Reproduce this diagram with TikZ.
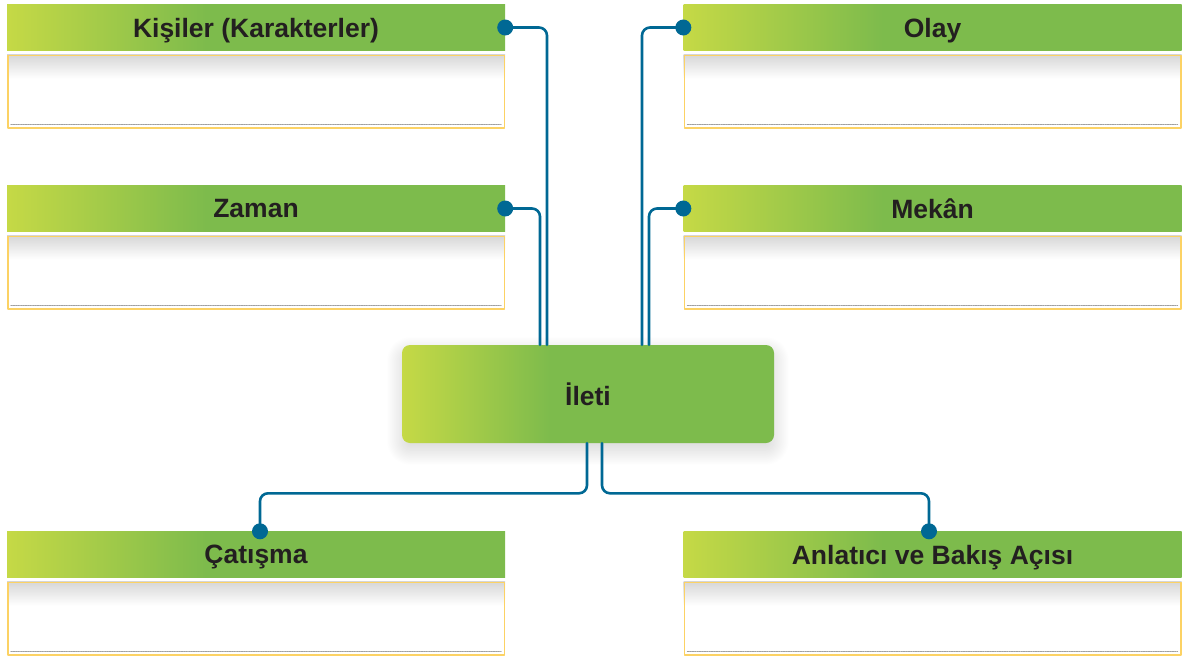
\documentclass[tikz,border=0pt]{standalone}
\usepackage{fontspec}
\setmainfont{Liberation Sans}
\usetikzlibrary{positioning,shadows.blur}
\definecolor{hdyellow}{RGB}{197,217,70}
\definecolor{hdgreen}{RGB}{125,187,76}
\definecolor{boxline}{RGB}{252,210,100}
\definecolor{linkblue}{RGB}{0,104,148}
\definecolor{txtdark}{RGB}{35,31,32}
\pgfdeclarehorizontalshading{headshade}{100bp}{color(0bp)=(hdyellow); color(25bp)=(hdyellow); color(45bp)=(hdgreen); color(100bp)=(hdgreen)}

\begin{document}
\begin{tikzpicture}[x=1pt,y=-1pt,line join=round,line cap=round,font=\fontsize{26.5}{30}\selectfont\bfseries]
    \tikzset{head/.style={shading=headshade, minimum width=498pt, minimum height=46pt, inner sep=0pt, text=txtdark, text depth=0pt},
        body/.style={fill=white, minimum width=498pt, minimum height=74pt, inner sep=0pt, outer sep=0pt},
        frame/.style={draw=boxline, line width=1.5pt},
        fall/.style={top color=black!16, bottom color=white},
        link/.style={draw=linkblue, line width=2.6pt, rounded corners=8pt},
        rule/.style={draw=gray!75, line width=1.3pt, dash pattern=on 1.2pt off 1.2pt}}
    \useasboundingbox (0,0) rectangle (1187,656);
    % boxes: body first, header on top
    \foreach \nm/\cx/\cy/\txt in {kisiler/256/27.5/{Kişiler (Karakterler)}, zaman/256/208.5/{Zaman},
        olay/932.5/27.5/{Olay}, mekan/932.5/208.5/{Mekân},
        catisma/256/554.5/{Çatışma}, anlatici/932.5/554.5/{Anlatıcı ve Bakış Açısı}}{
        \node[body] (\nm-body) at ({\cx},{\cy+64}) {};
        \shade[fall] (\nm-body.north west) rectangle ([yshift=-24pt]\nm-body.north east);
        \draw[frame] ([shift={(0.75pt,-0.75pt)}]\nm-body.north west) rectangle ([shift={(-0.75pt,0.75pt)}]\nm-body.south east);
        \draw[rule] ([xshift=4pt,yshift=4pt]\nm-body.south west) -- ([xshift=-4pt,yshift=4pt]\nm-body.south east);
        \node[head] (\nm) at (\cx,\cy) {\txt};
    }
    \node[head, rounded corners=8pt, minimum width=372pt, minimum height=98pt,
        blur shadow={shadow xshift=0pt, shadow yshift=-7pt, shadow blur radius=16pt, shadow blur steps=24, shadow opacity=18}] (ileti) at (588,394) {İleti};
    % connectors
    \draw[link] (kisiler.east) -| ([xshift=-41pt]ileti.north);
    \draw[link] (zaman.east) -| ([xshift=-48pt]ileti.north);
    \draw[link] (olay.west) -| ([xshift=54pt]ileti.north);
    \draw[link] (mekan.west) -| ([xshift=61pt]ileti.north);
    \draw[link] ([xshift=-1pt]ileti.south) |- ([xshift=4pt,yshift=38pt]catisma.north) -- ([xshift=4pt]catisma.north);
    \draw[link] ([xshift=14pt]ileti.south) |- ([xshift=-3.5pt,yshift=38pt]anlatici.north) -- ([xshift=-3.5pt]anlatici.north);
    \fill[linkblue] (kisiler.east) circle (8pt) (zaman.east) circle (8pt) (olay.west) circle (8pt) (mekan.west) circle (8pt)
        ([xshift=4pt]catisma.north) circle (8pt) ([xshift=-3.5pt]anlatici.north) circle (8pt);
\end{tikzpicture}
\end{document}
